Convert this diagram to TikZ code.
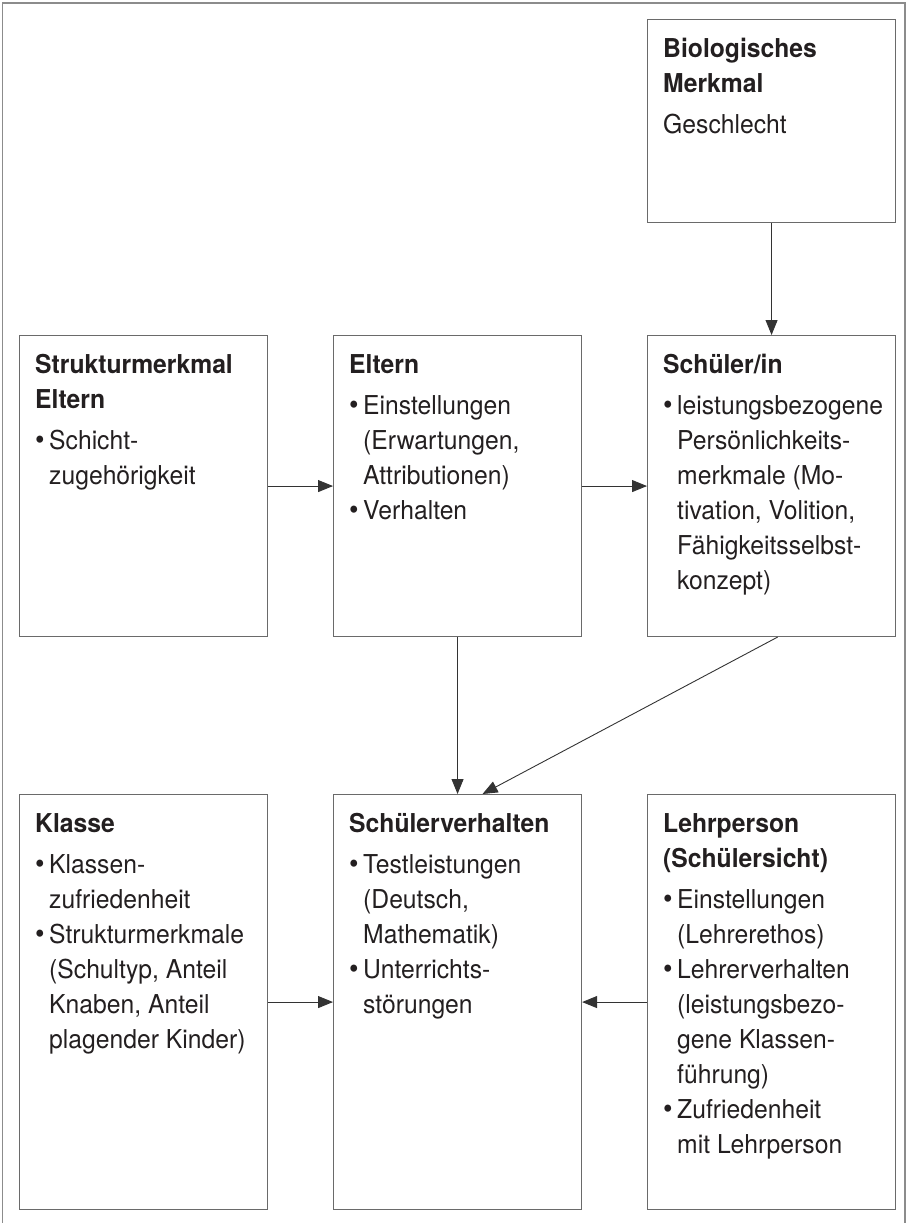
\documentclass[tikz,border=0pt]{standalone}
\usepackage{fontspec}
\setmainfont{TeX Gyre Heros}[FakeStretch=0.95]
\usetikzlibrary{arrows.meta}

\definecolor{ink}{HTML}{231F20}
\definecolor{boxline}{HTML}{6A6A6A}
\definecolor{frameline}{HTML}{8C8C8C}
\definecolor{arrowline}{HTML}{333333}

% bullet with hanging indent, and the matching indent for continuation lines
\newcommand\blt{\makebox[14pt][l]{\raisebox{0.5pt}{\scalebox{1.1}{\textbullet}}}}
\newcommand\ind{\hspace*{14pt}}
% fixed height of the first line so the text can be placed by its baseline
\newcommand\firstln{\rule{0pt}{26pt}}

\begin{document}
\begin{tikzpicture}[x=1pt, y=-1pt,
  box/.style={draw=boxline, line width=1.1pt, rectangle, inner sep=0pt,
    minimum width=248pt, anchor=north west},
  upper/.style={box, minimum height=301pt},
  lower/.style={box, minimum height=415pt},
  txt/.style={anchor=north west, inner sep=0pt, align=left, text=ink,
    font=\fontsize{26}{35}\selectfont},
  link/.style={draw=arrowline, line width=0.9pt,
    -{Triangle[length=15pt, width=12pt]}}]

\useasboundingbox (0,0) rectangle (910,1223);

% outer frame (open at the bottom)
\draw[frameline, line width=1.3pt] (2.5,1223) -- (2.5,3) -- (905,3) -- (905,1223);

% boxes
\node[box, minimum height=203pt] (bio) at (647,19) {};
\node[upper] (str) at (19,335) {};
\node[upper] (elt) at (333,335) {};
\node[upper] (sch) at (647,335) {};
\node[lower] (kla) at (19,794) {};
\node[lower] (ver) at (333,794) {};
\node[lower] (leh) at (647,794) {};

% box contents
\node[txt] (bio-t) at ([xshift=16pt, yshift=-12.5pt]bio.north west)
  {\firstln\textbf{Biologisches}\\\textbf{Merkmal}\\[6pt]Geschlecht};
\node[txt] (str-t) at ([xshift=16pt, yshift=-12.5pt]str.north west)
  {\firstln\textbf{Strukturmerkmal}\\\textbf{Eltern}\\[6pt]\blt Schicht-\\\ind zugehörigkeit};
\node[txt] (elt-t) at ([xshift=16pt, yshift=-12.5pt]elt.north west)
  {\firstln\textbf{Eltern}\\[6pt]\blt Einstellungen\\\ind(Erwartungen,\\\ind Attributionen)\\\blt Verhalten};
\node[txt] (sch-t) at ([xshift=16pt, yshift=-12.5pt]sch.north west)
  {\firstln\textbf{Schüler/in}\\[6pt]\blt leistungsbezogene\\\ind Persönlichkeits-\\\ind merkmale (Mo-\\\ind tivation, Volition,\\\ind Fähigkeitsselbst-\\\ind konzept)};
\node[txt] (kla-t) at ([xshift=16pt, yshift=-12.5pt]kla.north west)
  {\firstln\textbf{Klasse}\\[6pt]\blt Klassen-\\\ind zufriedenheit\\\blt Strukturmerkmale\\\ind(Schultyp, Anteil\\\ind Knaben, Anteil\\\ind plagender Kinder)};
\node[txt] (ver-t) at ([xshift=16pt, yshift=-12.5pt]ver.north west)
  {\firstln\textbf{Schülerverhalten}\\[6pt]\blt Testleistungen\\\ind(Deutsch,\\\ind Mathematik)\\\blt Unterrichts-\\\ind störungen};
\node[txt] (leh-t) at ([xshift=16pt, yshift=-12.5pt]leh.north west)
  {\firstln\textbf{Lehrperson}\\\textbf{(Schülersicht)}\\[6pt]\blt Einstellungen\\\ind(Lehrerethos)\\\blt Lehrerverhalten\\\ind(leistungsbezo-\\\ind gene Klassen-\\\ind führung)\\\blt Zufriedenheit\\\ind mit Lehrperson};

% connectors
\draw[link] (bio.south) -- (sch.north);
\draw[link] (str.east) -- (elt.west);
\draw[link] (elt.east) -- (sch.west);
\draw[link] (elt.south) -- (ver.north);
\draw[link] ([xshift=6pt]sch.south) -- ([xshift=25pt]ver.north);
\draw[link] (kla.east) -- (ver.west);
\draw[link] (leh.west) -- (ver.east);

\end{tikzpicture}
\end{document}
